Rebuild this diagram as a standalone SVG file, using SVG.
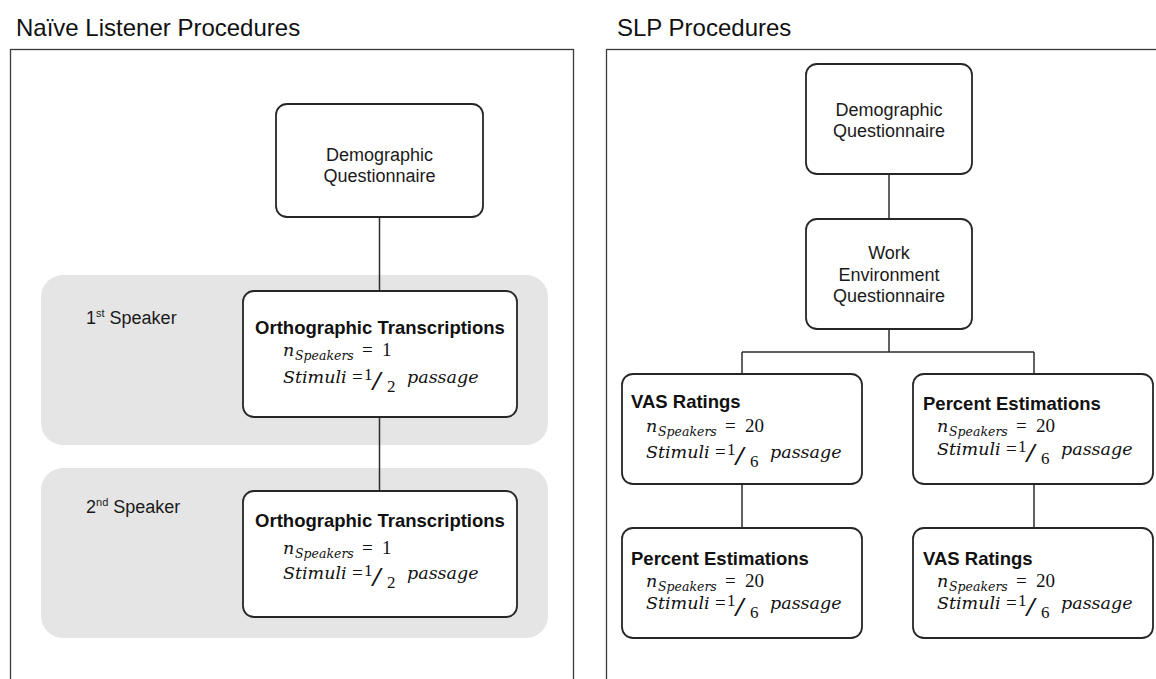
<svg xmlns="http://www.w3.org/2000/svg" width="1156" height="679" viewBox="0 0 1156 679">
<style>
.bg{fill:#fff}
.panel{fill:none;stroke:#3a3a3a;stroke-width:1.3}
.band{fill:#e5e5e5}
.box{fill:#fff;stroke:#262626;stroke-width:1.8}
.conn{fill:none;stroke:#2e2e2e;stroke-width:1.5}
.h{font-family:"Liberation Sans",Arial,sans-serif;font-size:24px;fill:#111}
.t{font-family:"Liberation Sans",Arial,sans-serif;font-size:18px;fill:#1a1a1a}
.b{font-family:"Liberation Sans",Arial,sans-serif;font-size:18.5px;font-weight:bold;fill:#111}
.sup{font-size:11px}
.mi{font-family:"DejaVu Serif",serif;font-style:italic;font-size:17.5px;fill:#111}
.ms{font-family:"DejaVu Serif",serif;font-style:italic;font-size:12.5px;fill:#111}
.mn{font-family:"Liberation Serif",serif;font-size:19px;fill:#111}
.mf{font-family:"Liberation Serif",serif;font-size:17px;fill:#111}
.msl{font-family:"Liberation Serif",serif;font-size:28px;fill:#111}
</style>
<rect class="bg" x="0" y="0" width="1156" height="679"/>
<text class="h" x="16" y="36">Naïve Listener Procedures</text>
<text class="h" x="617" y="36">SLP Procedures</text>
<rect class="panel" x="10.5" y="49.5" width="563" height="700"/>
<rect class="panel" x="606.5" y="49.5" width="600" height="700"/>
<g id="band1"><rect class="band" x="41" y="275" width="507" height="170" rx="22"/><text class="t" x="86" y="324">1<tspan class="sup" dy="-7">st</tspan><tspan dy="7"> Speaker</tspan></text></g>
<g id="band2"><rect class="band" x="41" y="468" width="507" height="170" rx="22"/><text class="t" x="86" y="513">2<tspan class="sup" dy="-7">nd</tspan><tspan dy="7"> Speaker</tspan></text></g>
<g id="connectors">
<path class="conn" d="M379.5 217V291M379.5 417V491"/>
<path class="conn" d="M889 174V219M889 329V352M742 352H1034M742 352V374M1034 352V374M742 484V528M1034 484V528"/>
</g>
<g id="nl-demo"><rect class="box" x="276" y="104" width="207" height="113" rx="11"/><text class="t" x="379.5" y="161" text-anchor="middle">Demographic</text><text class="t" x="379.5" y="182" text-anchor="middle">Questionnaire</text></g>
<g id="nl-ortho1"><rect class="box" x="243" y="291" width="274" height="126" rx="11"/><text class="b" x="380" y="334" text-anchor="middle">Orthographic Transcriptions</text>
<g transform="translate(283,356)"><text class="mi">n</text><text class="ms" x="12" y="4">Speakers</text><text class="mn" x="79">=</text><text class="mn" x="99">1</text></g>
<g transform="translate(283,383)"><text class="mi">Stimuli</text><text class="mn" x="69">=</text><text class="mf" x="81" y="-3">1</text><text class="msl" transform="translate(88,7) scale(1.5,1)">/</text><text class="mf" x="104" y="9">2</text><text class="mi" x="124">passage</text></g></g>
<g id="nl-ortho2"><rect class="box" x="243" y="491" width="274" height="126" rx="11"/><text class="b" x="380" y="527" text-anchor="middle">Orthographic Transcriptions</text>
<g transform="translate(283,554)"><text class="mi">n</text><text class="ms" x="12" y="4">Speakers</text><text class="mn" x="79">=</text><text class="mn" x="99">1</text></g>
<g transform="translate(283,579)"><text class="mi">Stimuli</text><text class="mn" x="69">=</text><text class="mf" x="81" y="-3">1</text><text class="msl" transform="translate(88,7) scale(1.5,1)">/</text><text class="mf" x="104" y="9">2</text><text class="mi" x="124">passage</text></g></g>
<g id="slp-demo"><rect class="box" x="806" y="64" width="166" height="110" rx="11"/><text class="t" x="889" y="116" text-anchor="middle">Demographic</text><text class="t" x="889" y="137" text-anchor="middle">Questionnaire</text></g>
<g id="slp-work"><rect class="box" x="806" y="219" width="166" height="110" rx="11"/><text class="t" x="889" y="259" text-anchor="middle">Work</text><text class="t" x="889" y="281" text-anchor="middle">Environment</text><text class="t" x="889" y="302" text-anchor="middle">Questionnaire</text></g>
<g id="slp-vas1"><rect class="box" x="622" y="374" width="240" height="110" rx="11"/><text class="b" x="631" y="408">VAS Ratings</text>
<g transform="translate(646,432)"><text class="mi">n</text><text class="ms" x="12" y="4">Speakers</text><text class="mn" x="79">=</text><text class="mn" x="99">20</text></g>
<g transform="translate(646,458)"><text class="mi">Stimuli</text><text class="mn" x="69">=</text><text class="mf" x="81" y="-3">1</text><text class="msl" transform="translate(88,7) scale(1.5,1)">/</text><text class="mf" x="104" y="9">6</text><text class="mi" x="124">passage</text></g></g>
<g id="slp-pct1"><rect class="box" x="913" y="374" width="240" height="110" rx="11"/><text class="b" x="923" y="410">Percent Estimations</text>
<g transform="translate(937,432)"><text class="mi">n</text><text class="ms" x="12" y="4">Speakers</text><text class="mn" x="79">=</text><text class="mn" x="99">20</text></g>
<g transform="translate(937,455)"><text class="mi">Stimuli</text><text class="mn" x="69">=</text><text class="mf" x="81" y="-3">1</text><text class="msl" transform="translate(88,7) scale(1.5,1)">/</text><text class="mf" x="104" y="9">6</text><text class="mi" x="124">passage</text></g></g>
<g id="slp-pct2"><rect class="box" x="622" y="528" width="240" height="110" rx="11"/><text class="b" x="631" y="565">Percent Estimations</text>
<g transform="translate(646,587)"><text class="mi">n</text><text class="ms" x="12" y="4">Speakers</text><text class="mn" x="79">=</text><text class="mn" x="99">20</text></g>
<g transform="translate(646,609)"><text class="mi">Stimuli</text><text class="mn" x="69">=</text><text class="mf" x="81" y="-3">1</text><text class="msl" transform="translate(88,7) scale(1.5,1)">/</text><text class="mf" x="104" y="9">6</text><text class="mi" x="124">passage</text></g></g>
<g id="slp-vas2"><rect class="box" x="913" y="528" width="240" height="110" rx="11"/><text class="b" x="923" y="565">VAS Ratings</text>
<g transform="translate(937,587)"><text class="mi">n</text><text class="ms" x="12" y="4">Speakers</text><text class="mn" x="79">=</text><text class="mn" x="99">20</text></g>
<g transform="translate(937,609)"><text class="mi">Stimuli</text><text class="mn" x="69">=</text><text class="mf" x="81" y="-3">1</text><text class="msl" transform="translate(88,7) scale(1.5,1)">/</text><text class="mf" x="104" y="9">6</text><text class="mi" x="124">passage</text></g></g>
</svg>
